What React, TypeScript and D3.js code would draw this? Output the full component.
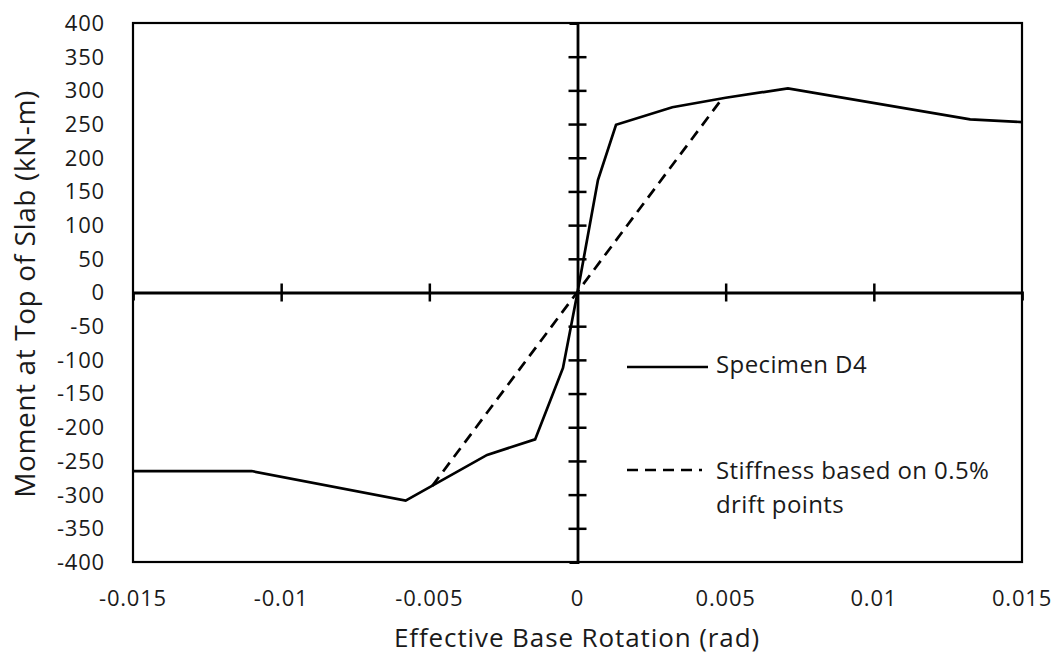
import React, { useEffect, useRef } from "react";
import * as d3 from "d3";

// Specimen D4 response (rotation rad, moment kN-m)
const specRot = [-0.015, -0.011, -0.0058, -0.00305, -0.00143, -0.00049, 0, 0.00069, 0.0013, 0.0032, 0.005, 0.0071, 0.01325, 0.015];
const specMom = [-265, -265, -309, -241, -218, -112, 0, 167, 249, 275, 289, 303, 257, 253];

// secant stiffness through 0.5% drift points
const stiffRot = [-0.0049, 0.0049];
const stiffMom = [-287, 289];

const xTicks = [-0.015, -0.01, -0.005, 0, 0.005, 0.01, 0.015];
const yTicks = d3.range(-400, 401, 50);

const FONT = "'Open Sans', Lato, sans-serif";
const INK = "#1a1a1a";

export default function App() {
  const ref = useRef<SVGSVGElement>(null);
  useEffect(() => {
    const node = ref.current;
    if (!node) return;
    const svg = d3.select(node);
    svg.selectAll("*").remove();
    const w = 1060, h = 663, m = { t: 23, r: 38, b: 101, l: 133 };
    const x = d3.scaleLinear().domain([-0.015, 0.015]).range([m.l, w - m.r]);
    const y = d3.scaleLinear().domain([-400, 400]).range([h - m.b, m.t]);

    svg.append("rect").attr("width", w).attr("height", h).attr("fill", "#fff");

    // frame
    svg.append("rect")
      .attr("x", m.l).attr("y", m.t)
      .attr("width", w - m.l - m.r).attr("height", h - m.t - m.b)
      .attr("fill", "none").attr("stroke", "#000").attr("stroke-width", 2.2);

    // zero axes with cross ticks
    const xAx = svg.append("g").attr("transform", `translate(0,${y(0)})`)
      .call(d3.axisBottom(x).tickValues(xTicks.filter((d) => d !== 0 && Math.abs(d) !== 0.015)).tickSize(8).tickFormat(() => ""));
    xAx.selectAll(".tick line").attr("y1", -9).attr("y2", 9).attr("stroke-width", 2.5);
    xAx.select(".domain").attr("stroke-width", 2.8);

    const yAx = svg.append("g").attr("transform", `translate(${x(0)},0)`)
      .call(d3.axisLeft(y).tickValues(yTicks.filter((d) => d !== 0 && Math.abs(d) !== 400)).tickSize(8).tickFormat(() => ""));
    yAx.selectAll(".tick line").attr("x1", -9).attr("x2", 9).attr("stroke-width", 2.5);
    yAx.select(".domain").attr("stroke-width", 2.8);

    // tick labels on the frame edges
    svg.append("g").selectAll("text").data(yTicks).enter().append("text")
      .attr("x", m.l - 28).attr("y", (d) => y(d)).attr("dy", "0.36em")
      .attr("text-anchor", "end").attr("font-family", FONT).attr("font-size", 22)
      .attr("letter-spacing", 0.8).attr("fill", INK)
      .text((d) => String(d));
    svg.append("g").selectAll("text").data(xTicks).enter().append("text")
      .attr("x", (d) => x(d)).attr("y", 606)
      .attr("text-anchor", "middle").attr("font-family", FONT).attr("font-size", 22)
      .attr("letter-spacing", 0.8).attr("fill", INK)
      .text((d) => String(d));

    // axis titles
    svg.append("text").attr("x", 577).attr("y", 647)
      .attr("text-anchor", "middle").attr("font-family", FONT).attr("font-size", 26)
      .attr("letter-spacing", 0.9).attr("fill", INK)
      .text("Effective Base Rotation (rad)");
    svg.append("text").attr("transform", `translate(35,294) rotate(-90)`)
      .attr("text-anchor", "middle").attr("font-family", FONT).attr("font-size", 28)
      .attr("letter-spacing", 0.6).attr("fill", INK)
      .text("Moment at Top of Slab (kN-m)");

    const spec = specRot.map((r, i) => [r, specMom[i]] as [number, number]);
    const stiff = stiffRot.map((r, i) => [r, stiffMom[i]] as [number, number]);
    const ln = d3.line<[number, number]>().x((d) => x(d[0])).y((d) => y(d[1]));

    svg.append("path").attr("d", ln(stiff)).attr("fill", "none").attr("stroke", "#000")
      .attr("stroke-width", 2.7).attr("stroke-dasharray", "11,7");
    svg.append("path").attr("d", ln(spec)).attr("fill", "none").attr("stroke", "#000")
      .attr("stroke-width", 2.7).attr("stroke-linejoin", "miter");

    // legend
    const lg = svg.append("g").attr("font-family", FONT).attr("font-size", 24)
      .attr("letter-spacing", 0.4).attr("fill", INK);
    lg.append("line").attr("x1", 627).attr("x2", 708).attr("y1", 367).attr("y2", 367)
      .attr("stroke", "#000").attr("stroke-width", 2.7);
    lg.append("text").attr("x", 716).attr("y", 373).text("Specimen D4");
    lg.append("line").attr("x1", 627).attr("x2", 702).attr("y1", 470).attr("y2", 470)
      .attr("stroke", "#000").attr("stroke-width", 2.7).attr("stroke-dasharray", "11,7");
    lg.append("text").attr("x", 716).attr("y", 479).text("Stiffness based on 0.5%");
    lg.append("text").attr("x", 716).attr("y", 513).text("drift points");
  }, []);
  return <svg ref={ref} width={1060} height={663} style={{ display: "block", margin: -8 }} />;
}
